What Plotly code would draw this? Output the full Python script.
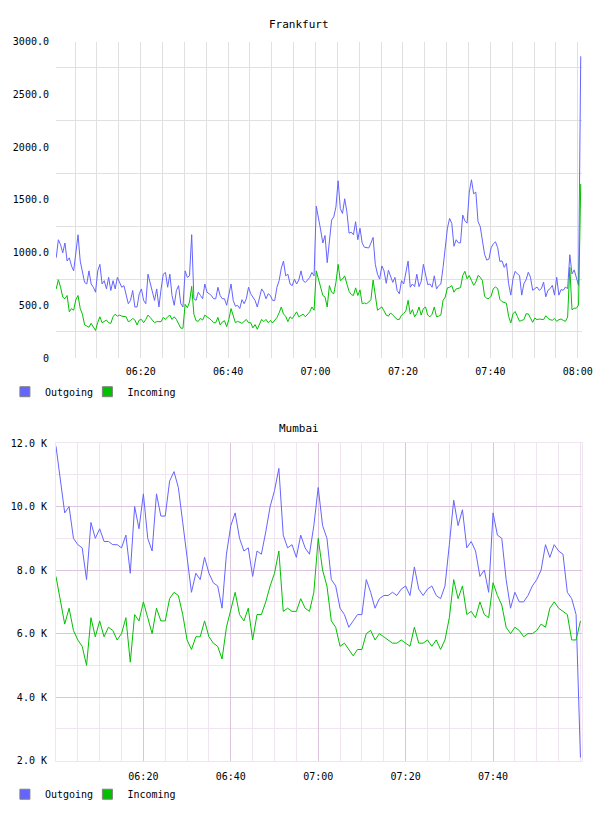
import pandas as pd
import plotly.graph_objects as go

# ---------------- data ----------------
fra_start = "2024-01-01 06:00:40"
fra_step_seconds = 30
fra_outgoing = [
    951, 1122, 1075, 998, 1091, 920, 951, 874, 827, 1029,
    1169, 920, 827, 718, 703, 827, 703, 672, 625, 827,
    889, 703, 734, 656, 765, 641, 734, 656, 765, 718,
    672, 687, 594, 516, 547, 641, 485, 485, 610, 656,
    547, 516, 796, 703, 610, 547, 656, 485, 656, 796,
    812, 672, 796, 594, 501, 641, 687, 516, 485, 827,
    765, 780, 1170, 563, 548, 625, 594, 563, 703, 625,
    610, 594, 563, 563, 672, 594, 563, 563, 501, 594,
    703, 547, 492, 501, 470, 554, 516, 563, 672, 610,
    572, 547, 485, 579, 656, 625, 563, 610, 594, 547,
    547, 672, 734, 852, 920, 780, 796, 703, 687, 749,
    703, 740, 827, 734, 718, 740, 765, 812, 780, 1440,
    1308, 1215, 1091, 1162, 905, 1122, 1308, 1339, 1433, 1681,
    1417, 1371, 1510, 1386, 1184, 1194, 1169, 1293, 1122, 1231,
    1091, 1051, 1044, 1044, 1091, 1144, 889, 796, 749, 874,
    827, 709, 833, 765, 718, 765, 641, 610, 734, 703,
    796, 920, 672, 703, 678, 796, 678, 728, 889, 780,
    697, 703, 672, 780, 656, 687, 703, 858, 1051, 1231,
    1324, 1277, 1060, 1122, 1093, 1093, 1356, 1300, 1279, 1573,
    1690, 1557, 1573, 1294, 1248, 1124, 984, 929, 938, 1046,
    1083, 1102, 1046, 916, 922, 860, 898, 705, 597, 752,
    823, 798, 783, 597, 705, 743, 814, 767, 643, 659,
    674, 643, 659, 721, 581, 643, 659, 690, 597, 767,
    597, 650, 643, 674, 659, 980, 798, 836, 767, 690,
    2860,
]
fra_incoming = [
    656, 743, 672, 579, 563, 594, 439, 470, 454, 554,
    594, 470, 417, 315, 305, 293, 330, 299, 262, 339,
    392, 336, 346, 361, 336, 330, 392, 417, 398, 408,
    398, 392, 392, 346, 355, 377, 361, 315, 361, 367,
    336, 367, 408, 386, 361, 336, 346, 343, 346, 386,
    367, 392, 408, 367, 392, 367, 324, 284, 284, 510,
    479, 532, 680, 417, 355, 349, 377, 361, 408, 392,
    377, 361, 336, 336, 386, 315, 343, 355, 299, 367,
    470, 392, 336, 349, 336, 330, 349, 367, 336, 336,
    287, 318, 274, 315, 367, 346, 367, 336, 358, 333,
    355, 386, 429, 485, 417, 398, 346, 392, 374, 408,
    439, 392, 408, 417, 392, 417, 439, 485, 454, 827,
    749, 672, 594, 579, 485, 687, 625, 610, 718, 889,
    734, 749, 780, 703, 634, 603, 594, 666, 594, 647,
    516, 523, 516, 532, 554, 740, 610, 454, 470, 485,
    448, 408, 398, 429, 408, 386, 367, 367, 408, 423,
    448, 548, 417, 460, 392, 423, 485, 408, 470, 485,
    408, 392, 417, 485, 392, 398, 408, 548, 579, 666,
    672, 687, 625, 656, 659, 668, 783, 823, 752, 783,
    736, 690, 721, 783, 767, 736, 588, 566, 566, 588,
    659, 674, 659, 557, 535, 526, 520, 396, 334, 420,
    442, 396, 349, 358, 365, 420, 420, 380, 340, 380,
    365, 371, 371, 365, 402, 377, 365, 359, 377, 349,
    365, 371, 359, 349, 389, 860, 458, 473, 473, 504,
    1650,
]

mum_start = "2024-01-01 06:00:00"
mum_step_seconds = 60
mum_outgoing = [
    11900, 10800, 9800, 10000, 9000, 8800, 8700, 7700, 9500, 9000,
    9300, 8900, 8900, 8800, 8800, 8700, 9100, 7900, 10000, 9300,
    10400, 9000, 8600, 10400, 9700, 9700, 10800, 11100, 10600, 9500,
    8300, 7300, 7900, 7700, 8400, 7900, 7600, 7500, 6800, 8500,
    9400, 9800, 9000, 8600, 8700, 7800, 8600, 8500, 9200, 10000,
    10500, 11200, 9100, 8700, 8800, 8400, 9100, 8700, 8500, 9400,
    10600, 9400, 9000, 7700, 7500, 6800, 6600, 6200, 6400, 6600,
    6600, 7700, 7300, 6800, 7100, 7200, 7200, 7300, 7200, 7400,
    7500, 7200, 8100, 7400, 7200, 7400, 7500, 7200, 7100, 7500,
    8800, 10200, 9400, 9900, 8700, 8900, 8600, 7800, 8000, 7300,
    9800, 9100, 9000, 7700, 6800, 7300, 7000, 7000, 7200, 7500,
    7700, 8000, 8800, 8400, 8800, 8600, 8500, 7300, 7100, 6600,
    2100,
]
mum_incoming = [
    7800, 7000, 6300, 6800, 6100, 5800, 5600, 5000, 6500, 5900,
    6400, 5900, 6200, 6100, 5800, 6000, 6500, 5100, 6600, 6400,
    7000, 6500, 6000, 6800, 6400, 6400, 7100, 7300, 7200, 6600,
    5800, 5500, 5900, 5900, 6400, 5900, 5700, 5600, 5200, 6200,
    6800, 7300, 6600, 6400, 6800, 5800, 6600, 6600, 7000, 7500,
    7900, 8600, 6700, 6800, 6700, 6700, 7100, 6800, 6700, 7300,
    9000, 8000, 7500, 6400, 6200, 5600, 5700, 5500, 5300, 5500,
    5500, 6000, 6100, 5800, 6000, 5900, 5800, 5700, 5700, 5800,
    5700, 5600, 6200, 5700, 5700, 5800, 5600, 5800, 5500, 5800,
    6500, 7700, 7100, 7500, 6600, 6700, 6500, 7000, 6600, 6500,
    7600, 7200, 6900, 6200, 6000, 6200, 6100, 5900, 6000, 6000,
    6100, 6300, 6200, 6800, 7000, 6800, 6700, 6600, 5800, 5800,
    6400,
]

series_names = ["Outgoing", "Incoming"]
series_colors = ["#6464ff", "#00c000"]

fra_y_tickvals = [0, 500, 1000, 1500, 2000, 2500, 3000]
fra_y_ticktext = ["0", "500.0", "1000.0", "1500.0", "2000.0", "2500.0", "3000.0"]
mum_y_tickvals = [2000, 4000, 6000, 8000, 10000, 12000]
mum_y_ticktext = ["2.0 K", "4.0 K", "6.0 K", "8.0 K", "10.0 K", "12.0 K"]
fra_x_ticklabels = ["06:20", "06:40", "07:00", "07:20", "07:40", "08:00"]
mum_x_ticklabels = ["06:20", "06:40", "07:00", "07:20", "07:40"]

# ---------------- build ----------------
day = "2024-01-01 "
fra_t = pd.date_range(fra_start, periods=len(fra_outgoing), freq=f"{fra_step_seconds}s")
mum_t = pd.date_range(mum_start, periods=len(mum_outgoing), freq=f"{mum_step_seconds}s")

FONT = "DejaVu Sans Mono"
tickfont = dict(family=FONT, size=10, color="#000000")

fig = go.Figure()
for vals, name, col in zip([fra_outgoing, fra_incoming], series_names, series_colors):
    fig.add_trace(go.Scatter(x=fra_t, y=vals, mode="lines", name=name,
                             line=dict(color=col, width=1), showlegend=False,
                             xaxis="x", yaxis="y", hoverinfo="skip"))
for vals, name, col in zip([mum_outgoing, mum_incoming], series_names, series_colors):
    fig.add_trace(go.Scatter(x=mum_t, y=vals, mode="lines", name=name,
                             line=dict(color=col, width=1), showlegend=False,
                             xaxis="x2", yaxis="y2", hoverinfo="skip"))

# legend entries (square swatches), one legend box per entry for exact spacing
legend_ids = [["legend", "legend3"], ["legend2", "legend4"]]
for row, (xa, ya) in enumerate([("x", "y"), ("x2", "y2")]):
    for j, (name, col) in enumerate(zip(series_names, series_colors)):
        fig.add_trace(go.Scatter(x=[None], y=[None], mode="markers", name=name,
                                 marker=dict(symbol="square", size=10, color=col,
                                             line=dict(color="#808080", width=1)),
                                 legend=legend_ids[row][j], xaxis=xa, yaxis=ya,
                                 showlegend=True))

W, H = 608, 816
def px(x):
    return x / W
def py(y):
    return 1 - y / H

xdom = [px(57), px(593)]
grid_gray = "#e0e0e0"
pink_minor = "#f0e4f0"
pink_major = "#dcc4dc"

legend_common = dict(orientation="h", xanchor="left", yanchor="middle",
                     font=dict(family=FONT, size=10, color="#000000"),
                     bgcolor="rgba(0,0,0,0)", itemclick=False, itemdoubleclick=False)

fig.update_layout(
    width=W, height=H, autosize=False,
    margin=dict(l=0, r=0, t=0, b=0),
    paper_bgcolor="white", plot_bgcolor="white",
    font=dict(family=FONT, size=10, color="#000000"),
    xaxis=dict(
        domain=xdom, anchor="y", type="date",
        range=[day + "06:00:37", day + "08:01:01"],
        tickmode="array", tickvals=[day + t for t in fra_x_ticklabels],
        ticktext=fra_x_ticklabels, tickfont=tickfont,
        showgrid=True, gridcolor=grid_gray, gridwidth=1,
        minor=dict(tick0=day + "06:00", dtick=300000, showgrid=True,
                   gridcolor=grid_gray, gridwidth=1),
        zeroline=False, showline=False, ticks="", ticklabelstandoff=6,
    ),
    yaxis=dict(
        domain=[py(358), py(37)], anchor="x",
        range=[0, 3000], tickmode="array",
        tickvals=fra_y_tickvals, ticktext=fra_y_ticktext, tickfont=tickfont,
        showgrid=False,
        minor=dict(tick0=250, dtick=500, showgrid=True, gridcolor=grid_gray, gridwidth=1),
        zeroline=False, showline=False, ticks="", ticklabelstandoff=6,
    ),
    xaxis2=dict(
        domain=xdom, anchor="y2", type="date",
        range=[day + "06:00:00", day + "08:00:25"],
        tickmode="array", tickvals=[day + t for t in mum_x_ticklabels],
        ticktext=mum_x_ticklabels, tickfont=tickfont,
        showgrid=True, gridcolor=pink_major, gridwidth=1,
        minor=dict(tick0=day + "06:00", dtick=300000, showgrid=True,
                   gridcolor=pink_minor, gridwidth=1),
        zeroline=False, showline=True, linecolor=pink_minor, linewidth=1, mirror=True,
        ticks="", ticklabelstandoff=6,
    ),
    yaxis2=dict(
        domain=[py(766), py(444)], anchor="x2",
        range=[2000, 12000], tickmode="array",
        tickvals=mum_y_tickvals, ticktext=mum_y_ticktext, tickfont=tickfont,
        showgrid=True, gridcolor=pink_major, gridwidth=1,
        minor=dict(tick0=1000, dtick=1000, showgrid=True, gridcolor=pink_minor, gridwidth=1),
        zeroline=False, showline=True, linecolor=pink_minor, linewidth=1, mirror=True,
        ticks="", ticklabelstandoff=6,
    ),
    legend=dict(x=px(5), y=py(392), **legend_common),
    legend3=dict(x=px(89), y=py(392), **legend_common),
    legend2=dict(x=px(5), y=py(800), **legend_common),
    legend4=dict(x=px(89), y=py(800), **legend_common),
    annotations=[
        dict(text="Frankfurt", x=px(304), y=py(20), xref="paper", yref="paper",
             showarrow=False, xanchor="center", yanchor="middle",
             font=dict(family=FONT, size=11, color="#000000")),
        dict(text="Mumbai", x=px(304), y=py(429), xref="paper", yref="paper",
             showarrow=False, xanchor="center", yanchor="middle",
             font=dict(family=FONT, size=11, color="#000000")),
    ],
)

fig.write_html(
    "out.html",
    config={"displayModeBar": False, "responsive": False},
    post_script="document.body.style.margin='0';document.body.style.overflow='hidden';",
)
